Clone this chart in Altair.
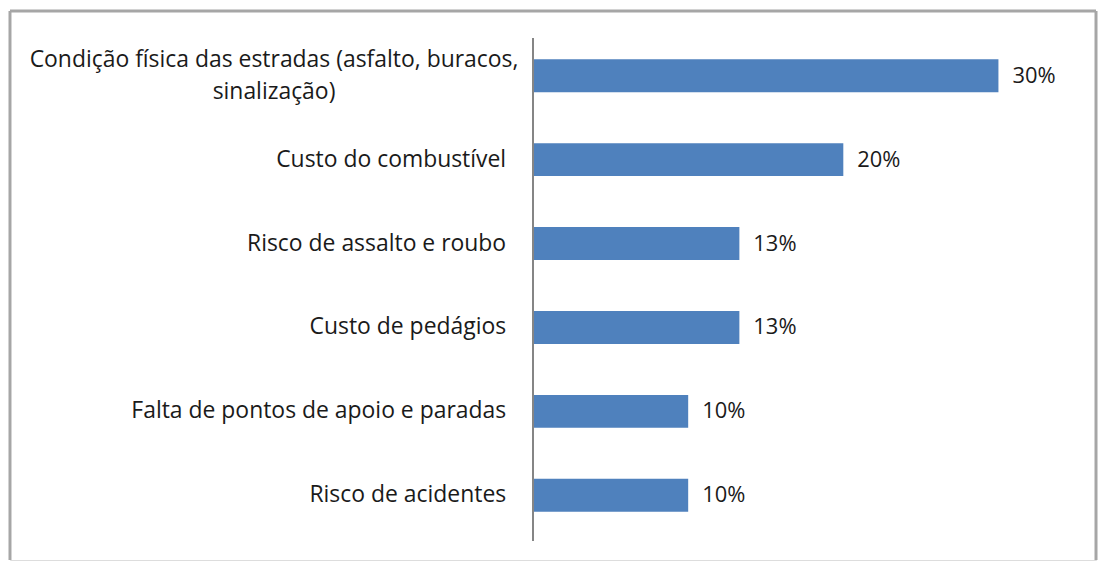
import altair as alt
import pandas as pd

categories = [
    "Condição física das estradas (asfalto, buracos,\nsinalização)",
    "Custo do combustível",
    "Risco de assalto  e roubo",
    "Custo de pedágios",
    "Falta de pontos de apoio e paradas",
    "Risco de acidentes",
]
values = [30, 20, 13.3, 13.3, 10, 10]
value_labels = ["30%", "20%", "13%", "13%", "10%", "10%"]
wrapped = [True, False, False, False, False, False]

df = pd.DataFrame({
    "cat": categories,
    "val": values,
    "lbl": value_labels,
    "wrap": wrapped,
    "zero": [0] * len(categories),
})

W, H = 1090, 551
FONT = "Open Sans"
FS = 23

xscale = alt.Scale(domain=[-33.72, 36.29], nice=False, zero=False)
yscale = alt.Scale(domain=categories, paddingInner=0.608, paddingOuter=0.576)

base = alt.Chart(df)

bars = base.mark_bar(color="#4F81BD").encode(
    x=alt.X("zero:Q", scale=xscale, axis=None),
    x2="val:Q",
    y=alt.Y("cat:N", scale=yscale, axis=None, sort=categories),
)

val_text = base.mark_text(align="left", baseline="middle", dx=14, font=FONT,
                          fontSize=FS - 1, color="#1a1a1a").encode(
    x=alt.X("val:Q", scale=xscale),
    y=alt.Y("cat:N", scale=yscale, sort=categories),
    text="lbl:N",
)

cat_text = base.transform_filter("!datum.wrap").mark_text(
    align="right", baseline="middle", dx=-27, font=FONT, fontSize=FS, color="#1a1a1a"
).encode(
    x=alt.X("zero:Q", scale=xscale),
    y=alt.Y("cat:N", scale=yscale, sort=categories),
    text="cat:N",
)

cat_wrap = base.transform_filter("datum.wrap").mark_text(
    align="center", baseline="middle", dx=-260, dy=-16, font=FONT, fontSize=FS,
    color="#1a1a1a", lineBreak="\n", lineHeight=32
).encode(
    x=alt.X("zero:Q", scale=xscale),
    y=alt.Y("cat:N", scale=yscale, sort=categories),
    text="cat:N",
)

axis_line = base.mark_rule(color="#868686", strokeWidth=1.5).encode(
    x=alt.X("zero:Q", scale=xscale),
    y=alt.value(27),
    y2=alt.value(532),
)

border = alt.Chart(pd.DataFrame({"a": [0]})).mark_rule(color="#A6A6A6", strokeWidth=3)
top = border.encode(x=alt.value(0), x2=alt.value(W), y=alt.value(0))
left = border.encode(x=alt.value(0), y=alt.value(0), y2=alt.value(H))
right = border.encode(x=alt.value(W), y=alt.value(0), y2=alt.value(H))

chart = alt.layer(bars, val_text, cat_text, cat_wrap, axis_line, top, left, right).properties(
    width=W, height=H
).configure_view(stroke=None).configure(background="white", padding=0)

chart.save("out.html", embed_options={"renderer": "svg", "actions": False})
